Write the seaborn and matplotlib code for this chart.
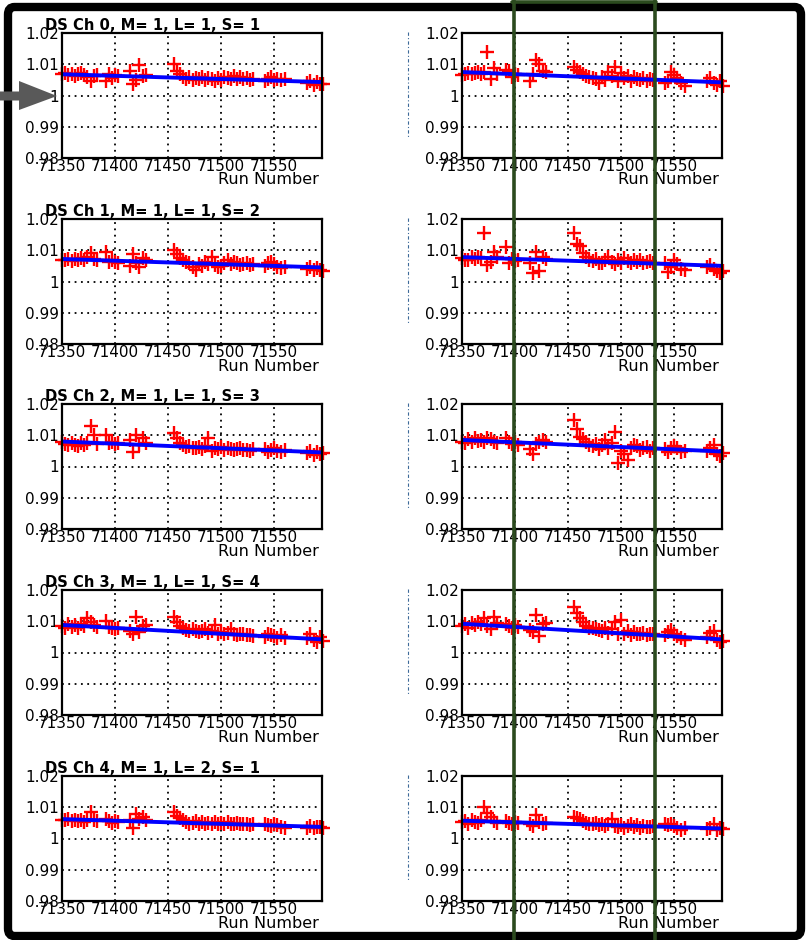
import pandas as pd
import seaborn as sns
import matplotlib.pyplot as plt
from matplotlib.patches import FancyBboxPatch, Polygon
from matplotlib.lines import Line2D

# run numbers shared by every channel (clusters of runs)
runs = [71350, 71353, 71356, 71359, 71362, 71365, 71368, 71371, 71374, 71377, 71380, 71383,
        71391, 71394, 71397, 71400, 71403,
        71414, 71417, 71420, 71423, 71426, 71429,
        71456, 71458, 71461, 71464, 71467, 71470, 71473, 71476, 71479, 71482, 71485, 71488, 71491,
        71494, 71497, 71500, 71503, 71506, 71509, 71512, 71515, 71518, 71521, 71524, 71527, 71530,
        71541, 71544, 71547, 71550, 71553, 71556, 71560,
        71581, 71584, 71587, 71590, 71593, 71596]

titles = ['DS Ch 0, M= 1, L= 1, S= 1', 'DS Ch 1, M= 1, L= 1, S= 2', 'DS Ch 2, M= 1, L= 1, S= 3',
          'DS Ch 3, M= 1, L= 1, S= 4', 'DS Ch 4, M= 1, L= 2, S= 1']

ch0_left = [1.0068, 1.0072, 1.0066, 1.0070, 1.0064, 1.0069, 1.0071, 1.0067, 1.0058, 1.0046, 1.0062, 1.0066,
            1.0045, 1.0068, 1.0055, 1.0065, 1.0062,
            1.0077, 1.0038, 1.0050, 1.0098, 1.0062, 1.0066,
            1.0100, 1.0080, 1.0068, 1.0060, 1.0052, 1.0058, 1.0050, 1.0056, 1.0052, 1.0058, 1.0049, 1.0055, 1.0053,
            1.0048, 1.0056, 1.0050, 1.0060, 1.0057, 1.0052, 1.0061, 1.0054, 1.0058, 1.0052, 1.0055, 1.0051, 1.0054,
            1.0048, 1.0052, 1.0058, 1.0050, 1.0054, 1.0049, 1.0052,
            1.0040, 1.0046, 1.0034, 1.0042, 1.0038, 1.0036]
ch0_right = [1.0065, 1.0070, 1.0073, 1.0068, 1.0072, 1.0075, 1.0070, 1.0076, 1.0138, 1.0052, 1.0088, 1.0068,
             1.0082, 1.0078, 1.0060, 1.0070, 1.0066,
             1.0048, 1.0070, 1.0112, 1.0102, 1.0080, 1.0075,
             1.0090, 1.0082, 1.0075, 1.0068, 1.0062, 1.0058, 1.0055, 1.0052, 1.0040, 1.0058, 1.0050, 1.0076, 1.0062,
             1.0092, 1.0048, 1.0072, 1.0055, 1.0062, 1.0045, 1.0058, 1.0052, 1.0050, 1.0055, 1.0048, 1.0052, 1.0050,
             1.0040, 1.0048, 1.0075, 1.0065, 1.0055, 1.0040, 1.0030,
             1.0048, 1.0055, 1.0040, 1.0032, 1.0045, 1.0030]
ch1_left = [1.0070, 1.0068, 1.0073, 1.0066, 1.0072, 1.0068, 1.0075, 1.0070, 1.0080, 1.0092, 1.0072, 1.0068,
            1.0095, 1.0062, 1.0068, 1.0064, 1.0060,
            1.0050, 1.0088, 1.0060, 1.0045, 1.0075, 1.0070,
            1.0100, 1.0088, 1.0075, 1.0068, 1.0062, 1.0060, 1.0048, 1.0038, 1.0055, 1.0050, 1.0062, 1.0055, 1.0078,
            1.0052, 1.0045, 1.0050, 1.0060, 1.0068, 1.0055, 1.0062, 1.0058, 1.0052, 1.0055, 1.0060, 1.0054, 1.0056,
            1.0050, 1.0058, 1.0062, 1.0055, 1.0048, 1.0042, 1.0045,
            1.0040, 1.0048, 1.0036, 1.0042, 1.0038, 1.0034]
ch1_right = [1.0075, 1.0070, 1.0068, 1.0078, 1.0072, 1.0080, 1.0074, 1.0155, 1.0052, 1.0062, 1.0095, 1.0078,
             1.0110, 1.0060, 1.0072, 1.0065, 1.0068,
             1.0058, 1.0028, 1.0095, 1.0035, 1.0080, 1.0072,
             1.0155, 1.0120, 1.0112, 1.0090, 1.0078, 1.0070, 1.0065, 1.0072, 1.0060, 1.0058, 1.0068, 1.0080, 1.0062,
             1.0055, 1.0068, 1.0060, 1.0075, 1.0065, 1.0060, 1.0070, 1.0063, 1.0068, 1.0058, 1.0062, 1.0066, 1.0060,
             1.0060, 1.0030, 1.0045, 1.0068, 1.0055, 1.0040, 1.0038,
             1.0045, 1.0052, 1.0040, 1.0035, 1.0028, 1.0032]
ch2_left = [1.0078, 1.0072, 1.0068, 1.0075, 1.0070, 1.0066, 1.0074, 1.0070, 1.0076, 1.0130, 1.0100, 1.0072,
            1.0100, 1.0075, 1.0078, 1.0072, 1.0075,
            1.0085, 1.0045, 1.0100, 1.0068, 1.0092, 1.0075,
            1.0108, 1.0090, 1.0075, 1.0068, 1.0062, 1.0065, 1.0060, 1.0058, 1.0062, 1.0055, 1.0065, 1.0092, 1.0050,
            1.0060, 1.0055, 1.0062, 1.0052, 1.0058, 1.0056, 1.0053, 1.0055, 1.0060, 1.0052, 1.0054, 1.0050, 1.0055,
            1.0055, 1.0048, 1.0052, 1.0058, 1.0050, 1.0047, 1.0052,
            1.0042, 1.0050, 1.0038, 1.0045, 1.0040, 1.0044]
ch2_right = [1.0080, 1.0075, 1.0088, 1.0078, 1.0090, 1.0082, 1.0085, 1.0078, 1.0092, 1.0088, 1.0080, 1.0076,
             1.0092, 1.0080, 1.0072, 1.0078, 1.0070,
             1.0055, 1.0040, 1.0072, 1.0080, 1.0085, 1.0078,
             1.0150, 1.0120, 1.0095, 1.0088, 1.0078, 1.0070, 1.0065, 1.0072, 1.0055, 1.0068, 1.0085, 1.0060, 1.0075,
             1.0110, 1.0012, 1.0050, 1.0040, 1.0020, 1.0060, 1.0070, 1.0065, 1.0052, 1.0058, 1.0062, 1.0050, 1.0060,
             1.0055, 1.0048, 1.0060, 1.0065, 1.0058, 1.0045, 1.0050,
             1.0050, 1.0058, 1.0070, 1.0040, 1.0035, 1.0042]
ch3_left = [1.0085, 1.0080, 1.0090, 1.0082, 1.0088, 1.0078, 1.0092, 1.0085, 1.0110, 1.0098, 1.0088, 1.0082,
            1.0100, 1.0082, 1.0078, 1.0075, 1.0080,
            1.0070, 1.0058, 1.0112, 1.0065, 1.0085, 1.0088,
            1.0115, 1.0098, 1.0085, 1.0078, 1.0072, 1.0068, 1.0075, 1.0070, 1.0065, 1.0068, 1.0075, 1.0062, 1.0070,
            1.0088, 1.0060, 1.0065, 1.0058, 1.0062, 1.0075, 1.0060, 1.0055, 1.0058, 1.0060, 1.0055, 1.0057, 1.0052,
            1.0050, 1.0060, 1.0055, 1.0052, 1.0048, 1.0055, 1.0045,
            1.0045, 1.0060, 1.0040, 1.0035, 1.0050, 1.0038]
ch3_right = [1.0085, 1.0092, 1.0080, 1.0095, 1.0088, 1.0098, 1.0090, 1.0110, 1.0085, 1.0075, 1.0115, 1.0095,
             1.0090, 1.0085, 1.0080, 1.0088, 1.0082,
             1.0072, 1.0065, 1.0120, 1.0052, 1.0090, 1.0095,
             1.0145, 1.0125, 1.0110, 1.0098, 1.0085, 1.0080, 1.0078, 1.0075, 1.0072, 1.0068, 1.0080, 1.0062, 1.0075,
             1.0098, 1.0058, 1.0105, 1.0060, 1.0070, 1.0055, 1.0065, 1.0060, 1.0058, 1.0062, 1.0055, 1.0060, 1.0058,
             1.0055, 1.0065, 1.0072, 1.0060, 1.0052, 1.0045, 1.0040,
             1.0050, 1.0062, 1.0070, 1.0040, 1.0035, 1.0038]
ch4_left = [1.0060, 1.0058, 1.0062, 1.0055, 1.0060, 1.0056, 1.0058, 1.0052, 1.0060, 1.0085, 1.0058, 1.0055,
            1.0062, 1.0055, 1.0050, 1.0056, 1.0052,
            1.0058, 1.0035, 1.0078, 1.0062, 1.0070, 1.0058,
            1.0085, 1.0072, 1.0065, 1.0058, 1.0052, 1.0048, 1.0050, 1.0055, 1.0048, 1.0052, 1.0045, 1.0050, 1.0048,
            1.0052, 1.0046, 1.0050, 1.0048, 1.0052, 1.0047, 1.0045, 1.0050, 1.0048, 1.0045, 1.0047, 1.0044, 1.0046,
            1.0048, 1.0044, 1.0040, 1.0046, 1.0042, 1.0038, 1.0035,
            1.0035, 1.0040, 1.0032, 1.0038, 1.0036, 1.0034]
ch4_right = [1.0052, 1.0055, 1.0048, 1.0058, 1.0054, 1.0050, 1.0060, 1.0100, 1.0082, 1.0070, 1.0055, 1.0050,
             1.0055, 1.0050, 1.0048, 1.0052, 1.0050,
             1.0045, 1.0040, 1.0075, 1.0052, 1.0048, 1.0050,
             1.0070, 1.0065, 1.0062, 1.0055, 1.0050, 1.0048, 1.0045, 1.0050, 1.0042, 1.0048, 1.0040, 1.0045, 1.0062,
             1.0040, 1.0038, 1.0042, 1.0035, 1.0040, 1.0045, 1.0038, 1.0042, 1.0035, 1.0040, 1.0038, 1.0036, 1.0040,
             1.0045, 1.0042, 1.0048, 1.0040, 1.0032, 1.0028, 1.0035,
             1.0030, 1.0035, 1.0045, 1.0028, 1.0032, 1.0030]

# straight-line fit, value at first and last run of the range
fit_runs = [71350, 71595]
fit_left = [(1.0068, 1.0043), (1.0072, 1.0045), (1.0080, 1.0045), (1.0088, 1.0042), (1.0062, 1.0037)]
fit_right = [(1.0075, 1.0042), (1.0078, 1.0050), (1.0085, 1.0048), (1.0092, 1.0042), (1.0057, 1.0032)]

x_ticks = [71350, 71400, 71450, 71500, 71550]
x_tick_labels = ['71350', '71400', '71450', '71500', '71550']
y_ticks = [0.98, 0.99, 1.00, 1.01, 1.02]
y_tick_labels = ['0.98', '0.99', '1', '1.01', '1.02']

panels = [(ch0_left, ch0_right), (ch1_left, ch1_right), (ch2_left, ch2_right),
          (ch3_left, ch3_right), (ch4_left, ch4_right)]

sns.set_theme(style='white')
plt.rcParams['font.family'] = ['DejaVu Sans']
plt.rcParams['text.color'] = 'black'

W, H = 807, 940
fig = plt.figure(figsize=(W / 100, H / 100), dpi=100)
fig.patch.set_facecolor('white')

row_tops = [33, 219, 404, 590, 776]
col_lefts = [62, 462]
ax_w, ax_h = 260, 125

for r in range(5):
    for c in range(2):
        top = row_tops[r]
        left = col_lefts[c]
        ax = fig.add_axes([left / W, 1 - (top + ax_h) / H, ax_w / W, ax_h / H])
        df = pd.DataFrame({'run': runs, 'ratio': panels[r][c]})
        sns.scatterplot(data=df, x='run', y='ratio', marker='+', color='#ff0000', s=95,
                        linewidth=1.7, ax=ax, zorder=3, clip_on=False)
        fit = fit_left[r] if c == 0 else fit_right[r]
        fdf = pd.DataFrame({'run': fit_runs, 'ratio': list(fit)})
        sns.lineplot(data=fdf, x='run', y='ratio', color='#0000ff', lw=2.8, ax=ax, zorder=4)
        ax.set_xlim(71350, 71595)
        ax.set_ylim(0.98, 1.02)
        ax.set_xticks(x_ticks)
        ax.set_xticklabels(x_tick_labels)
        ax.set_yticks(y_ticks)
        ax.set_yticklabels(y_tick_labels)
        ax.grid(True, color='black', linestyle=(0, (1, 2.5)), lw=1.3)
        ax.set_axisbelow(True)
        ax.tick_params(axis='x', length=0, pad=1, labelsize=11, colors='black')
        ax.tick_params(axis='y', length=0, pad=2, labelsize=11, colors='black')
        ax.set_xlabel('')
        ax.set_ylabel('')
        for s in ax.spines.values():
            s.set_color('black')
            s.set_linewidth(1.6)
            s.set_zorder(5)
        fig.text((left + ax_w - 3) / W, 1 - (top + ax_h + 22) / H, 'Run Number',
                 fontsize=11.5, ha='right', va='center')
        if c == 0:
            fig.text(45 / W, 1 - (top - 3) / H, titles[r], fontsize=10.6,
                     fontweight='bold', ha='left', va='baseline')
        else:
            # leftover dash-dot line beside the right column
            fig.add_artist(Line2D([408 / W, 408 / W], [1 - (top - 1) / H, 1 - (top + 105) / H],
                                  color='#3d6a99', lw=0.8, linestyle=(0, (3, 2, 1, 2))))

# outer rounded black frame
fig.add_artist(FancyBboxPatch((8 / W, 1 - 936 / H), 793 / W, 929 / H,
                              boxstyle='round,pad=0,rounding_size=0.008',
                              transform=fig.transFigure, fill=False, ec='black', lw=6, zorder=10))

# grey arrow pointing at the 1.0 line of the first panel
arrow_px = [(0, 91.5), (19, 91.5), (19, 81), (57, 96), (19, 110), (19, 100.5), (0, 100.5)]
fig.add_artist(Polygon([(x / W, 1 - y / H) for x, y in arrow_px], closed=True,
                       transform=fig.transFigure, fc='#595959', ec='none', zorder=11))

# dark green highlight box
green = '#2b4a1e'
for xs, ys in [([513.5, 513.5], [0, 940]), ([654.5, 654.5], [0, 940]), ([512, 656], [1.5, 1.5])]:
    fig.add_artist(Line2D([x / W for x in xs], [1 - y / H for y in ys], color=green, lw=2.6, zorder=12))

fig.savefig('out.png', dpi=100)
